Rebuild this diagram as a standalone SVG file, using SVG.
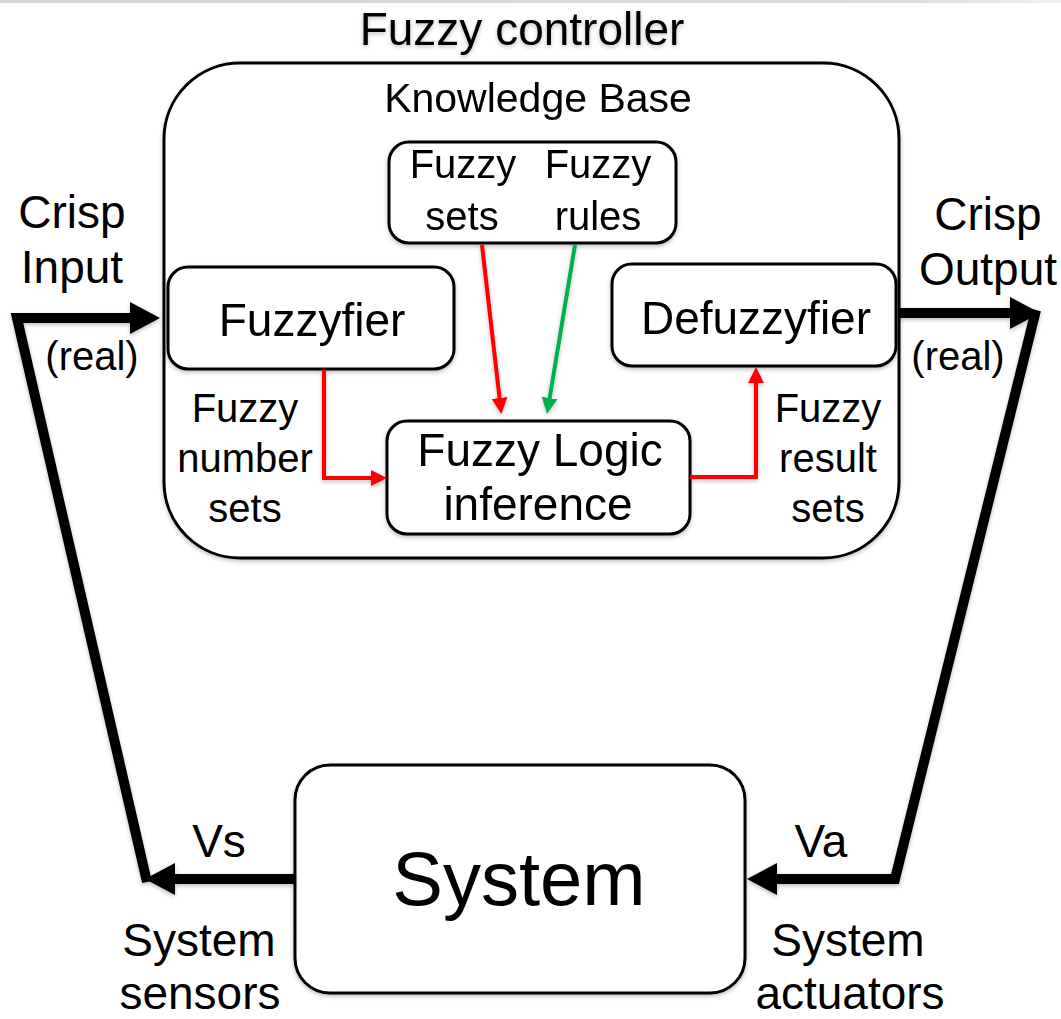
<svg xmlns="http://www.w3.org/2000/svg" width="1061" height="1019" viewBox="0 0 1061 1019">
  <defs>
    <filter id="shade" x="-10%" y="-10%" width="120%" height="130%">
      <feDropShadow dx="0" dy="2" stdDeviation="2" flood-color="#000" flood-opacity="0.25"/>
    </filter>
    <linearGradient id="topband" x1="0" y1="0" x2="1" y2="0">
      <stop offset="0" stop-color="#d4d4d4"/>
      <stop offset="0.85" stop-color="#dcdcdc"/>
      <stop offset="1" stop-color="#f0f0f0"/>
    </linearGradient>
    <!-- thick black loop arrowhead: tip sits 20 units past the line end -->
    <marker id="ah-big" viewBox="0 0 30 32" markerWidth="30" markerHeight="32" refX="10" refY="16" orient="auto" markerUnits="userSpaceOnUse">
      <path d="M0,0 L30,16 L0,32 Z" fill="#000"/>
    </marker>
    <marker id="ah-red" viewBox="0 0 16 16" markerWidth="16" markerHeight="16" refX="4" refY="8" orient="auto" markerUnits="userSpaceOnUse">
      <path d="M0,0 L16,8 L0,16 Z" fill="#ff0000"/>
    </marker>
    <marker id="ah-green" viewBox="0 0 16 16" markerWidth="16" markerHeight="16" refX="4" refY="8" orient="auto" markerUnits="userSpaceOnUse">
      <path d="M0,0 L16,8 L0,16 Z" fill="#00b050"/>
    </marker>
  </defs>
  <style>
    text { font-family: "Liberation Sans", Arial, Helvetica, sans-serif; fill: #000; text-anchor: middle; }
    .box { fill: #fff; stroke: #000; stroke-width: 3; }
    .loop { fill: none; stroke: #000; stroke-width: 10; stroke-linejoin: miter; }
    .red { fill: none; stroke: #ff0000; stroke-width: 4; }
    .green { fill: none; stroke: #00b050; stroke-width: 4; }
    .t46 { font-size: 46px; }
    .t40 { font-size: 40px; }
  </style>

  <rect x="0" y="0" width="1061" height="1019" fill="#fff"/>
  <rect x="0" y="0" width="1061" height="3" fill="url(#topband)"/>

  <!-- controller frame -->
  <g id="fuzzy-controller" filter="url(#shade)">
    <rect class="box" x="164" y="63" width="735" height="495" rx="76" ry="76"/>
    <text class="t46" x="522" y="45">Fuzzy controller</text>
    <text x="538" y="112" style="font-size:41px">Knowledge Base</text>
  </g>

  <g id="knowledge-sets-rules" filter="url(#shade)">
    <rect class="box" x="389" y="142" width="287" height="101" rx="20" ry="20"/>
    <text class="t40" x="463" y="178">Fuzzy</text>
    <text class="t40" x="462" y="230">sets</text>
    <text class="t40" x="598" y="178">Fuzzy</text>
    <text class="t40" x="598" y="230">rules</text>
  </g>

  <g id="fuzzyfier" filter="url(#shade)">
    <rect class="box" x="168" y="267" width="286" height="102" rx="20" ry="20"/>
    <text class="t46" x="312" y="336">Fuzzyfier</text>
  </g>

  <g id="defuzzyfier" filter="url(#shade)">
    <rect class="box" x="612" y="264" width="284" height="102" rx="20" ry="20"/>
    <text class="t46" x="756" y="334">Defuzzyfier</text>
  </g>

  <g id="inference" filter="url(#shade)">
    <rect class="box" x="387" y="421" width="303" height="113" rx="20" ry="20"/>
    <text class="t46" x="540" y="466">Fuzzy Logic</text>
    <text class="t46" x="538" y="520">inference</text>
  </g>

  <g id="system" filter="url(#shade)">
    <rect class="box" x="295" y="765" width="450" height="228" rx="35" ry="35"/>
    <text x="519" y="905" style="font-size:76px">System</text>
  </g>

  <!-- connectors -->
  <g id="connectors" filter="url(#shade)">
    <!-- inner flows -->
    <path class="red" d="M482,245 L500,402" marker-end="url(#ah-red)"/>
    <path class="green" d="M575,245 L549,402" marker-end="url(#ah-green)"/>
    <path class="red" d="M324,370 L324,478 L375,478" marker-end="url(#ah-red)"/>
    <path class="red" d="M690,477 L756,477 L756,379" marker-end="url(#ah-red)"/>
    <!-- outer feedback loop -->
    <path class="loop" d="M898,313 L1020,313" marker-end="url(#ah-big)"/>
    <path class="loop" d="M1036,310 L895,879 L767,879" marker-end="url(#ah-big)"/>
    <path class="loop" d="M295,879 L165,879" marker-end="url(#ah-big)"/>
    <path class="loop" d="M147,882 L17,318 L140,318" marker-end="url(#ah-big)"/>
  </g>

  <!-- loop labels -->
  <g id="labels">
    <text class="t46" x="72" y="228">Crisp</text>
    <text class="t46" x="72" y="283">Input</text>
    <text class="t40" x="92" y="370">(real)</text>
    <text class="t46" x="988" y="230">Crisp</text>
    <text class="t46" x="988" y="285">Output</text>
    <text class="t40" x="958" y="370">(real)</text>
    <text class="t40" x="245" y="422">Fuzzy</text>
    <text class="t40" x="245" y="472">number</text>
    <text class="t40" x="245" y="522">sets</text>
    <text class="t40" x="828" y="422">Fuzzy</text>
    <text class="t40" x="828" y="472">result</text>
    <text class="t40" x="828" y="522">sets</text>
    <text class="t46" x="219" y="857">Vs</text>
    <text class="t46" x="821" y="857">Va</text>
    <text class="t46" x="199" y="956">System</text>
    <text class="t46" x="200" y="1009">sensors</text>
    <text class="t46" x="848" y="956">System</text>
    <text class="t46" x="850" y="1009">actuators</text>
  </g>
</svg>
